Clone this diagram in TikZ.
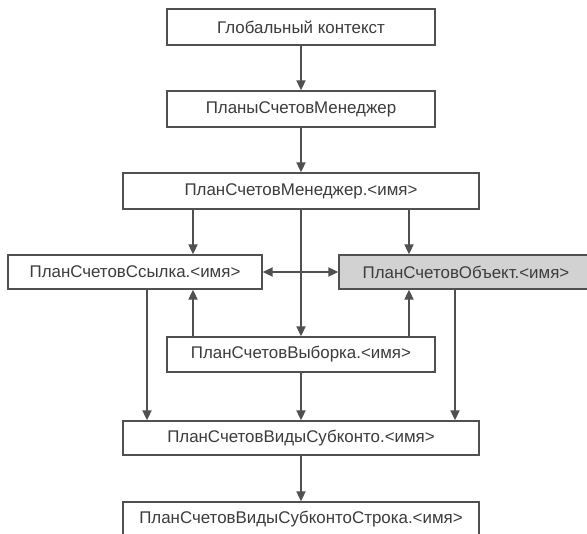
\documentclass[tikz,border=0pt]{standalone}
\usepackage{fontspec}
\setmainfont{Liberation Sans}
\usetikzlibrary{arrows.meta, positioning, calc}

\definecolor{linegray}{HTML}{505050}
\definecolor{textgray}{HTML}{3C3C3C}
\definecolor{objfill}{HTML}{D2D2D2}

\tikzset{
  box/.style={draw=linegray, line width=1.3pt, fill=white, text=textgray,
              inner sep=0pt, font=\fontsize{16.9}{20}\selectfont},
  arr/.style={draw=linegray, line width=1.8pt, -{Triangle[length=10pt, width=9pt]}},
  arrs/.style={draw=linegray, line width=1.8pt,
               {Triangle[length=10pt, width=9pt]}-{Triangle[length=10pt, width=9pt]}}
}

\begin{document}
\begin{tikzpicture}[x=1pt, y=-1pt]
    \clip (0,0) rectangle (587,534);
    \fill[white] (0,0) rectangle (587,534);

    % Menedzhery
    \node[box, minimum width=268pt, minimum height=36pt] (global) at (301,27) {Глобальный контекст};
    \node[box, minimum width=268pt, minimum height=36pt] (planyMgr) at (301,109) {ПланыСчетовМенеджер};
    \node[box, minimum width=356pt, minimum height=36pt] (planMgr) at (301,191) {ПланСчетовМенеджер.<имя>};

    % Ssylka i Obyekt
    \node[box, minimum width=254pt, minimum height=34pt] (ssylka) at (135,272) {ПланСчетовСсылка.<имя>};
    \node[box, fill=objfill, minimum width=254pt, minimum height=34pt] (obyekt) at (466,272) {ПланСчетовОбъект.<имя>};

    % Vyborka
    \node[box, minimum width=268pt, minimum height=35pt] (vyborka) at (301,354.5) {ПланСчетовВыборка.<имя>};

    % Vidy subkonto
    \node[box, minimum width=356pt, minimum height=34pt] (subkonto) at (301,438) {ПланСчетовВидыСубконто.<имя>};
    \node[box, minimum width=356pt, minimum height=34pt] (stroka) at (301,519) {ПланСчетовВидыСубконтоСтрока.<имя>};

    % tochki dlya vertikalnyh strelok
    \coordinate (sR) at ([xshift=58pt]ssylka.north);
    \coordinate (oL) at ([xshift=-57pt]obyekt.north);
    \coordinate (sL) at ([xshift=12pt]ssylka.south);
    \coordinate (oR) at ([xshift=-11pt]obyekt.south);

    % strelki
    \draw[arr] (global) -- (planyMgr);
    \draw[arr] (planyMgr) -- (planMgr);
    \draw[arr] (sR |- planMgr.south) -- (sR);
    \draw[arr] (oL |- planMgr.south) -- (oL);
    \draw[arr] (planMgr) -- (vyborka);
    \draw[arrs] (ssylka) -- (obyekt);
    \draw[arr] (sR |- vyborka.north) -- (sR |- ssylka.south);
    \draw[arr] (oL |- vyborka.north) -- (oL |- obyekt.south);
    \draw[arr] (sL) -- (sL |- subkonto.north);
    \draw[arr] (oR) -- (oR |- subkonto.north);
    \draw[arr] (vyborka) -- (subkonto);
    \draw[arr] (subkonto) -- (stroka);
\end{tikzpicture}
\end{document}
